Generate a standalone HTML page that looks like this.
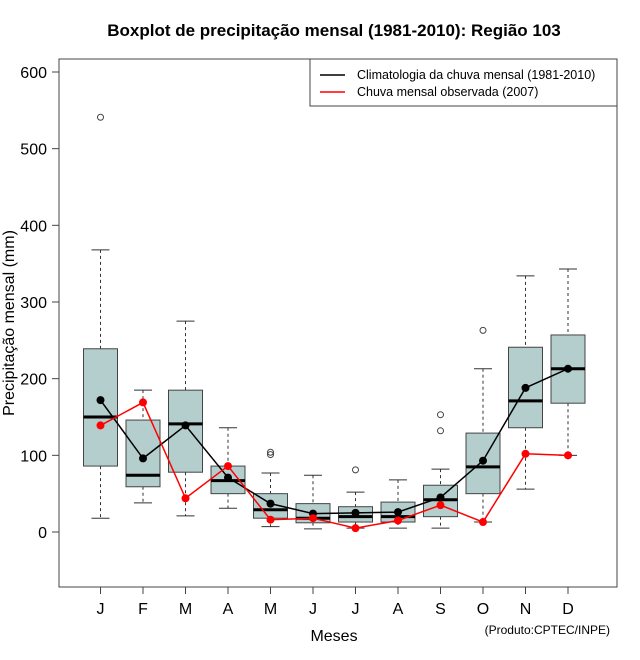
<!DOCTYPE html>
<html><head><meta charset="utf-8"><style>
body{margin:0;background:#fff;}
svg{display:block;font-family:"Liberation Sans",sans-serif;}
</style></head><body>
<svg id="chart" width="640" height="660" xmlns="http://www.w3.org/2000/svg">
<text x="334" y="36" text-anchor="middle" font-size="17" font-weight="bold">Boxplot de precipitação mensal (1981-2010): Região 103</text>
<rect x="59" y="59" width="558" height="528" fill="none" stroke="#444" stroke-width="1"/>
<g id="yaxis"></g>
<g id="xaxis"></g>
<g id="boxes"></g>
<g id="lines"></g>
<text transform="translate(14,323) rotate(-90)" text-anchor="middle" font-size="16">Precipitação mensal (mm)</text>
<text x="334" y="641" text-anchor="middle" font-size="16">Meses</text>
<text x="610" y="634" text-anchor="end" font-size="12">(Produto:CPTEC/INPE)</text>
<g>
<rect x="310" y="59" width="307" height="47" fill="#fff" stroke="#444"/>
<line x1="320" y1="75" x2="345" y2="75" stroke="#000" stroke-width="1.5"/>
<text x="357" y="79" font-size="12.5">Climatologia da chuva mensal (1981-2010)</text>
<line x1="320" y1="92" x2="345" y2="92" stroke="#f00" stroke-width="1.5"/>
<text x="357" y="96" font-size="12.5">Chuva mensal observada (2007)</text>
</g>
</svg>
<script>
const months=["J","F","M","A","M","J","J","A","S","O","N","D"];
const whiskerLow=[18,38,21,31,7,4,5,5,5,13,56,100];
const q1=[86,59,78,50,18,12,13,13,20,50,136,168];
const median=[150,74,141,67,29,18,20,20,42,85,171,213];
const q3=[239,146,185,86,50,37,33,39,61,129,241,257];
const whiskerHigh=[368,185,275,136,77,74,52,68,82,213,334,343];
const outlierMonth=[0,4,4,6,8,8,9];
const outlierValue=[541,101,104,81,132,153,263];
const climatology=[172,96,139,71,37,24,25,26,45,93,188,213];
const observed=[139,169,44,86,16,18,5,15,35,13,102,100];
const yTicks=[0,100,200,300,400,500,600];
const NS="http://www.w3.org/2000/svg";
function y(v){return 532-v*0.76667;}
function x(i){return 100.5+i*42.5;}
function mk(tag,attrs,parent){const e=document.createElementNS(NS,tag);for(const k in attrs)e.setAttribute(k,attrs[k]);parent.appendChild(e);return e;}
const ya=document.getElementById('yaxis'),xa=document.getElementById('xaxis'),bx=document.getElementById('boxes'),ln=document.getElementById('lines');
yTicks.forEach(t=>{
 const l=mk('line',{x1:52,x2:59,y1:y(t),y2:y(t),stroke:'#444'},ya);
 
 
 const tx=mk('text',{x:47,y:y(t)+6,'text-anchor':'end','font-size':16},ya);tx.textContent=t;
 
 
});
months.forEach((m,i)=>{
 const l=mk('line',{x1:x(i),x2:x(i),y1:587,y2:594,stroke:'#444'},xa);
 
 
 const tx=mk('text',{x:x(i),y:614,'text-anchor':'middle','font-size':16},xa);tx.textContent=m;
 
 
 const g=mk('g',{},bx);
 
 
 const hw=17;
 mk('line',{x1:x(i),x2:x(i),y1:y(whiskerHigh[i]),y2:y(q3[i]),stroke:'#333','stroke-dasharray':'3,3'},g);
 mk('line',{x1:x(i),x2:x(i),y1:y(q1[i]),y2:y(whiskerLow[i]),stroke:'#333','stroke-dasharray':'3,3'},g);
 mk('line',{x1:x(i)-9,x2:x(i)+9,y1:y(whiskerHigh[i]),y2:y(whiskerHigh[i]),stroke:'#333'},g);
 mk('line',{x1:x(i)-9,x2:x(i)+9,y1:y(whiskerLow[i]),y2:y(whiskerLow[i]),stroke:'#333'},g);
 mk('rect',{x:x(i)-hw,y:y(q3[i]),width:2*hw,height:y(q1[i])-y(q3[i]),fill:'#b4cdcd',stroke:'#444'},g);
 mk('line',{x1:x(i)-hw,x2:x(i)+hw,y1:y(median[i]),y2:y(median[i]),stroke:'#000','stroke-width':3},g);
});
outlierMonth.forEach((m,k)=>{
 const c=mk('circle',{cx:x(m),cy:y(outlierValue[k]),r:3,fill:'none',stroke:'#444'},bx);
 
 
});
function series(vals,color,name){
 const p=mk('polyline',{points:vals.map((v,i)=>x(i)+','+y(v)).join(' '),fill:'none',stroke:color,'stroke-width':1.5},ln);
 
 
 vals.forEach((v,i)=>{
  const c=mk('circle',{cx:x(i),cy:y(v),r:4,fill:color},ln);
  
  
 });
}
series(climatology,'#000','climatology');
series(observed,'#f00','observed');
</script>
</body></html>
